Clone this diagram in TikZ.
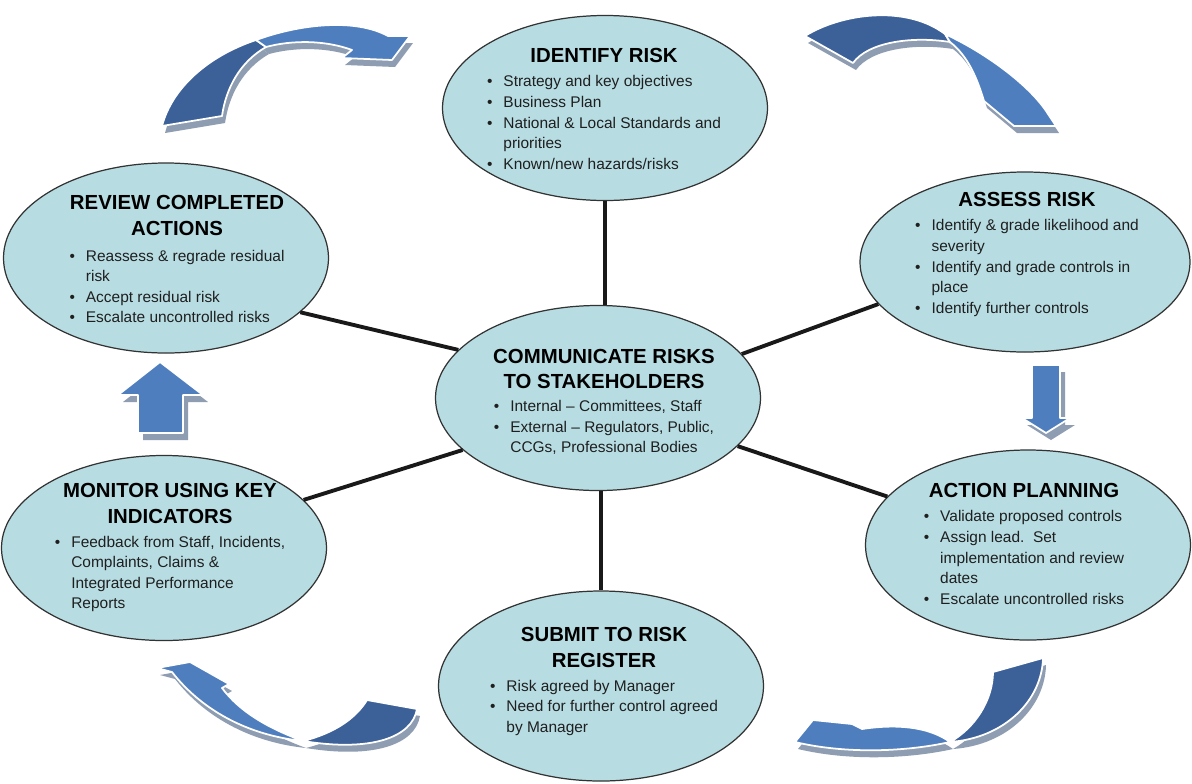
\documentclass[tikz,border=0pt]{standalone}
\usepackage{fontspec}
\setmainfont{Liberation Sans}
\usepackage{xcolor}
\definecolor{riskfill}{RGB}{183,221,227}
\definecolor{banddk}{RGB}{60,96,152}
\definecolor{bandlt}{RGB}{78,126,190}
\definecolor{bandsh}{RGB}{142,157,178}
\usepackage{tikz}
\usetikzlibrary{shapes.geometric}

\newcommand{\ttl}{\fontsize{11.6}{15.4}\selectfont\bfseries\color{black}}
\newcommand{\bdy}{\fontsize{8.8}{11.7}\selectfont\mdseries\color{black!88}}
\newenvironment{risklist}{\begin{tabular}[t]{@{}c@{\hspace{2.2mm}}l@{}}}{\end{tabular}}
% curved arrow: shadow first, then dark tail and light head
\newcommand{\bandarrow}[2]{%
  \fill[bandsh, shift={(3,7)}] #1; \fill[bandsh, shift={(3,7)}] #2;
  \filldraw[banddark] #1; \filldraw[bandlight] #2;}
\newcommand{\blockarrow}[1]{%
  \fill[bandsh, shift={(5,7)}] #1; \filldraw[bandlight] #1;}

\begin{document}
\begin{tikzpicture}[
    x=0.2mm, y=-0.2mm,
    riskell/.style={ellipse, draw=black!80, line width=0.7pt, fill=riskfill, minimum width=65mm, minimum height=37mm, inner sep=0pt},
    txt/.style={align=center, inner sep=0pt, font=\bdy},
    spoke/.style={line width=2.2pt, draw=black!90},
    banddark/.style={fill=banddk, draw=white, line width=1pt, line join=round},
    bandlight/.style={fill=bandlt, draw=white, line width=1pt, line join=round},
]
\fill[white] (0,0) rectangle (1192,783);
\useasboundingbox (0,0) rectangle (1192,783);

% Stages round the hub
\node[riskell] (identify) at (605,108) {};
\node[riskell, minimum height=38mm] (review) at (166,258) {};
\node[riskell, minimum width=66mm, minimum height=36mm] (assess) at (1025,262) {};
\node[riskell] (comm) at (598,398) {};
\node[riskell] (monitor) at (164,548) {};
\node[riskell, minimum height=38mm] (action) at (1028,545) {};
\node[riskell, minimum height=38mm] (submit) at (601,686) {};

% Spokes
\draw[spoke] (identify.south |- comm.north) -- (identify.south);
\draw[spoke] (submit.north |- comm.south) -- (submit.north);
\draw[spoke] (comm.161) -- (review.-22);
\draw[spoke] (comm.17) -- (assess.196);
\draw[spoke] (comm.201) -- (monitor.19);
\draw[spoke] (comm.-19) -- (action.161);

% Texts
\node[txt] (identify-t) at (604,112) {\ttl IDENTIFY RISK\\[2pt]\bdy
  \begin{risklist}
  \textbullet & Strategy and key objectives\\
  \textbullet & Business Plan\\
  \textbullet & National \& Local Standards and\\
   & priorities\\
  \textbullet & Known/new hazards/risks
  \end{risklist}};
\node[txt] (review-t) at (177,262) {\ttl REVIEW COMPLETED\\[3pt]\ttl ACTIONS\\[3pt]\bdy
  \begin{risklist}
  \textbullet & Reassess \& regrade residual\\
   & risk\\
  \textbullet & Accept residual risk\\
  \textbullet & Escalate uncontrolled risks
  \end{risklist}};
\node[txt] (assess-t) at (1027,256) {\ttl ASSESS RISK\\[2pt]\bdy
  \begin{risklist}
  \textbullet & Identify \& grade likelihood and\\
   & severity\\
  \textbullet & Identify and grade controls in\\
   & place\\
  \textbullet & Identify further controls
  \end{risklist}};
\node[txt] (comm-t) at (604,404) {\ttl COMMUNICATE RISKS\\[2.5pt]\ttl TO STAKEHOLDERS\\[1.5pt]\bdy
  \begin{risklist}
  \textbullet & Internal -- Committees, Staff\\
  \textbullet & External -- Regulators, Public,\\
   & CCGs, Professional Bodies
  \end{risklist}};
\node[txt] (monitor-t) at (170,549) {\ttl MONITOR USING KEY\\[3pt]\ttl INDICATORS\\[2pt]\bdy
  \begin{risklist}
  \textbullet & Feedback from Staff, Incidents,\\
   & Complaints, Claims \&\\
   & Integrated Performance\\
   & Reports
  \end{risklist}};
\node[txt] (action-t) at (1024,547) {\ttl ACTION PLANNING\\[2pt]\bdy
  \begin{risklist}
  \textbullet & Validate proposed controls\\
  \textbullet & Assign lead.\ \ Set\\
   & implementation and review\\
   & dates\\
  \textbullet & Escalate uncontrolled risks
  \end{risklist}};
\node[txt] (submit-t) at (604,683) {\ttl SUBMIT TO RISK\\[3pt]\ttl REGISTER\\[2pt]\bdy
  \begin{risklist}
  \textbullet & Risk agreed by Manager\\
  \textbullet & Need for further control agreed\\
   & by Manager
  \end{risklist}};

% Cycle arrows
\bandarrow{(162,126) .. controls (172,88) and (208,56) .. (256,40) -- (266,47) .. controls (240,62) and (226,88) .. (222,116) -- cycle}
  {(256,40) .. controls (300,24) and (355,18) .. (388,36) -- (410,36) -- (392,60) -- (342,58) -- (352,50) .. controls (325,40) and (292,40) .. (266,47) -- cycle}
\bandarrow{(805,36) .. controls (840,14) and (905,4) .. (945,34) -- (950,42) .. controls (912,36) and (868,42) .. (853,63) -- cycle}
  {(945,34) .. controls (990,55) and (1032,88) .. (1048,114) -- (1056,126) -- (1014,126) -- (984,101) .. controls (977,78) and (968,56) .. (950,42) -- cycle}
\bandarrow{(993,672) -- (1043,658) .. controls (1042,700) and (1005,738) .. (950,742) .. controls (975,728) and (993,700) .. (993,672) -- cycle}
  {(950,742) .. controls (905,752) and (845,754) .. (795,742) -- (813,720) -- (852,724) -- (862,729) .. controls (895,724) and (928,726) .. (950,742) -- cycle}
\bandarrow{(367,700) -- (417,709) .. controls (412,738) and (370,752) .. (303,741) .. controls (335,733) and (356,718) .. (367,700) -- cycle}
  {(303,741) .. controls (245,735) and (200,708) .. (172,672) -- (157,668) -- (190,662) -- (229,684) -- (222,688) .. controls (240,712) and (268,728) .. (303,741) -- cycle}
\blockarrow{(1032,365) -- (1060,365) -- (1060,418) -- (1070,418) -- (1046,433) -- (1022,418) -- (1032,418) -- cycle}
\blockarrow{(138,433) -- (138,395) -- (118,395) -- (160,362) -- (203,395) -- (183,395) -- (183,433) -- cycle}

\end{tikzpicture}
\end{document}
